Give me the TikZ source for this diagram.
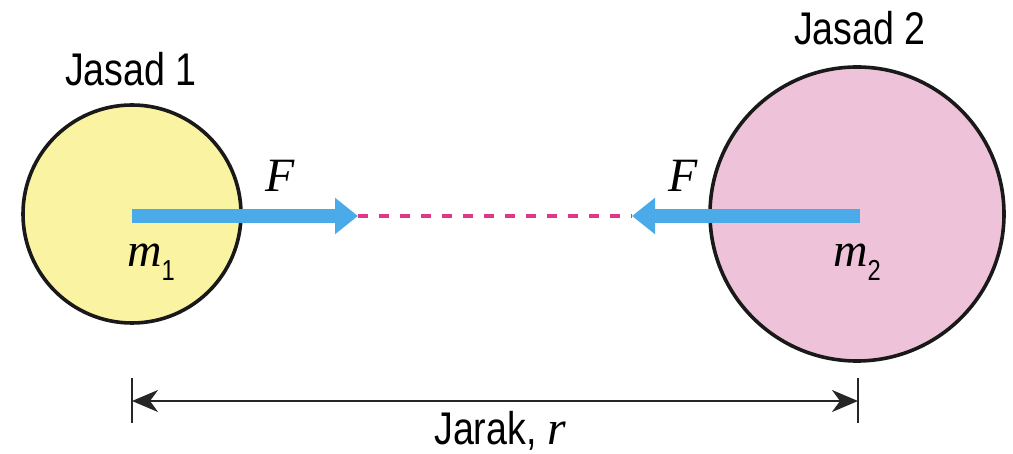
\documentclass[tikz,border=0pt]{standalone}
\usepackage{fontspec}
\setmainfont{Liberation Serif}
\newfontfamily\labelsans[FakeStretch=0.82]{Liberation Sans}
\usetikzlibrary{arrows.meta}
\definecolor{bodyyellow}{HTML}{FAF4A2}
\definecolor{bodypink}{HTML}{EEC3D9}
\definecolor{forceblue}{HTML}{4BABE8}
\definecolor{linkmagenta}{HTML}{E0378B}
\tikzset{
  bodycircle/.style={circle, draw=black!90, line width=3.6bp, inner sep=0pt, minimum size=#1},
  forcearrow/.style={draw=forceblue, line width=14bp, -{Triangle[length=23bp,width=35bp]}},
  linkline/.style={draw=linkmagenta, line width=3.6bp, dash pattern=on 10bp off 11bp},
  dimline/.style={draw=black!85, line width=2.2bp, {Stealth[length=26bp,width=22bp,inset=8bp]}-{Stealth[length=26bp,width=22bp,inset=8bp]}},
  dimtick/.style={draw=black!85, line width=2.2bp},
  sanslabel/.style={font=\labelsans\fontsize{46}{50}\selectfont, inner sep=0pt, anchor=base},
  mathlabel/.style={font=\rmfamily\itshape\fontsize{48}{52}\selectfont, inner sep=0pt, anchor=base},
}
\newcommand{\subsans}[1]{{\labelsans\upshape\fontsize{29}{30}\selectfont #1}}
\begin{document}
\begin{tikzpicture}[x=1bp,y=-1bp]
\useasboundingbox (0,0) rectangle (1013,454);
% bodies
\node[bodycircle=218bp, fill=bodyyellow] (c1) at (132,214) {};
\node[bodycircle=294bp, fill=bodypink] (c2) at (857,214) {};
% arrow coordinates
\coordinate (a1s) at (132,216);
\coordinate (a1e) at (358,216);
\coordinate (a2s) at (860,216);
\coordinate (a2e) at (632,216);
% dashed link
\draw[linkline] (a1e) -- (a2e);
% forces
\draw[forcearrow] (a1s) -- (a1e);
\draw[forcearrow] (a2s) -- (a2e);
% labels
\node[sanslabel] (j1) at (131,86) {Jasad 1};
\node[sanslabel] (j2) at (860,45) {Jasad 2};
\node[mathlabel] (f1) at (280,192) {F};
\node[mathlabel] (f2) at (683,192) {F};
\node[mathlabel, anchor=base west] (m1) at (127,267) {m\raisebox{-14bp}{\subsans{1}}};
\node[mathlabel, anchor=base west] (m2) at (833,267) {m\raisebox{-14bp}{\subsans{2}}};
% distance
\coordinate (t1a) at (132,378);
\coordinate (t1b) at (132,423);
\coordinate (t2a) at (858,378);
\coordinate (t2b) at (858,423);
\coordinate (d1) at (132,401);
\coordinate (d2) at (858,401);
\draw[dimtick] (t1a) -- (t1b);
\draw[dimtick] (t2a) -- (t2b);
\draw[dimline] (d1) -- (d2);
\node[sanslabel] (jr) at (500,444) {Jarak, {\rmfamily\itshape\fontsize{48}{52}\selectfont r}};
\end{tikzpicture}
\end{document}
